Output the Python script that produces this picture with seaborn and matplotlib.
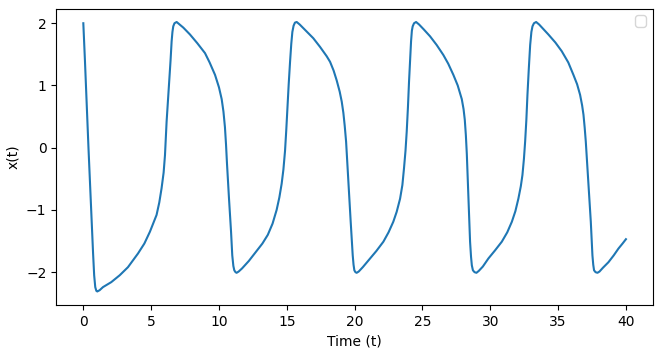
import matplotlib
matplotlib.use("Agg")
import matplotlib.pyplot as plt
import seaborn as sns

# values (time, x)
time = [
    0.00, 0.12, 0.25, 0.38, 0.50, 0.62, 0.72, 0.80, 0.88, 0.96, 1.03,
    1.20, 1.45, 2.06, 2.68, 3.29, 4.03, 4.50, 4.91, 5.40, 5.60, 5.77, 5.92, 6.02, 6.14, 6.24, 6.34, 6.43, 6.51, 6.57, 6.63, 6.72, 6.88,
    7.10, 7.37, 7.86, 8.40, 8.97, 9.31, 9.71, 10.00, 10.20, 10.33, 10.44, 10.52, 10.59, 10.74, 10.89, 10.98, 11.06, 11.13, 11.22, 11.30,
    11.45, 11.70, 12.20, 12.70, 13.20, 13.60, 13.95, 14.25, 14.45, 14.62, 14.75, 14.87, 14.96, 15.04, 15.14, 15.24, 15.33, 15.41, 15.50, 15.60, 15.73,
    15.95, 16.40, 16.95, 17.45, 17.94, 18.19, 18.45, 18.68, 18.90, 19.05, 19.17, 19.27, 19.37, 19.54, 19.71, 19.86, 19.92, 19.98, 20.06, 20.15,
    20.30, 20.60, 21.14, 21.60, 22.12, 22.50, 22.85, 23.10, 23.35, 23.52, 23.64, 23.75, 23.84, 23.93, 24.01, 24.09, 24.16, 24.22, 24.28, 24.38, 24.53,
    24.75, 25.10, 25.56, 26.05, 26.54, 26.90, 27.28, 27.60, 27.90, 28.03, 28.12, 28.20, 28.27, 28.39, 28.51, 28.58, 28.64, 28.72, 28.84, 28.98,
    29.15, 29.45, 29.86, 30.35, 30.85, 31.25, 31.59, 31.85, 32.07, 32.25, 32.37, 32.48, 32.57, 32.66, 32.74, 32.84, 32.94, 33.03, 33.11, 33.22, 33.38,
    33.60, 34.28, 34.80, 35.27, 35.75, 36.13, 36.40, 36.62, 36.77, 36.87, 36.96, 37.04, 37.23, 37.41, 37.53, 37.59, 37.65, 37.76, 37.90,
    38.05, 38.30, 38.71, 39.10, 39.45, 39.75, 40.00,
]
x_vals = [
    2.00, 1.40, 0.70, 0.00, -0.60, -1.20, -1.70, -2.05, -2.24, -2.30, -2.31,
    -2.29, -2.24, -2.16, -2.05, -1.92, -1.70, -1.54, -1.35, -1.08, -0.88, -0.65, -0.40, -0.12, 0.42, 0.75, 1.06, 1.40, 1.71, 1.86, 1.95, 2.00, 2.02,
    1.98, 1.93, 1.82, 1.68, 1.52, 1.37, 1.17, 0.97, 0.78, 0.58, 0.33, 0.05, -0.25, -0.82, -1.35, -1.73, -1.90, -1.97, -2.00, -2.01,
    -1.99, -1.94, -1.82, -1.68, -1.54, -1.40, -1.22, -1.00, -0.80, -0.58, -0.35, -0.05, 0.28, 0.62, 1.02, 1.38, 1.67, 1.86, 1.96, 2.01, 2.02,
    1.98, 1.88, 1.76, 1.62, 1.47, 1.38, 1.24, 1.08, 0.90, 0.74, 0.56, 0.35, 0.10, -0.55, -1.19, -1.73, -1.88, -1.97, -2.00, -2.01,
    -1.99, -1.92, -1.78, -1.66, -1.51, -1.36, -1.19, -1.03, -0.82, -0.60, -0.33, -0.05, 0.26, 0.65, 1.06, 1.42, 1.71, 1.88, 1.95, 2.00, 2.02,
    1.98, 1.90, 1.79, 1.65, 1.49, 1.35, 1.17, 1.00, 0.78, 0.62, 0.45, 0.20, -0.10, -0.82, -1.51, -1.75, -1.89, -1.97, -2.00, -2.01,
    -1.98, -1.91, -1.78, -1.65, -1.51, -1.36, -1.19, -1.02, -0.82, -0.62, -0.44, -0.18, 0.10, 0.45, 0.85, 1.27, 1.65, 1.86, 1.95, 2.00, 2.02,
    1.98, 1.82, 1.69, 1.55, 1.37, 1.17, 1.02, 0.85, 0.68, 0.53, 0.32, 0.10, -0.55, -1.19, -1.73, -1.88, -1.97, -2.00, -2.01,
    -1.99, -1.93, -1.84, -1.73, -1.62, -1.54, -1.47,
]

fig, ax = plt.subplots(figsize=(6.61, 3.55), dpi=100)
fig.subplots_adjust(left=0.085, right=0.988, bottom=0.141, top=0.976)

sns.lineplot(x=time, y=x_vals, sort=False, color="#1f77b4", linewidth=1.5, ax=ax)

ax.set_xlabel("Time (t)")
ax.set_ylabel("x(t)")
ax.set_xticks([0, 5, 10, 15, 20, 25, 30, 35, 40])
ax.legend(handles=[], loc="upper right")

fig.savefig("out.png", dpi=100)
